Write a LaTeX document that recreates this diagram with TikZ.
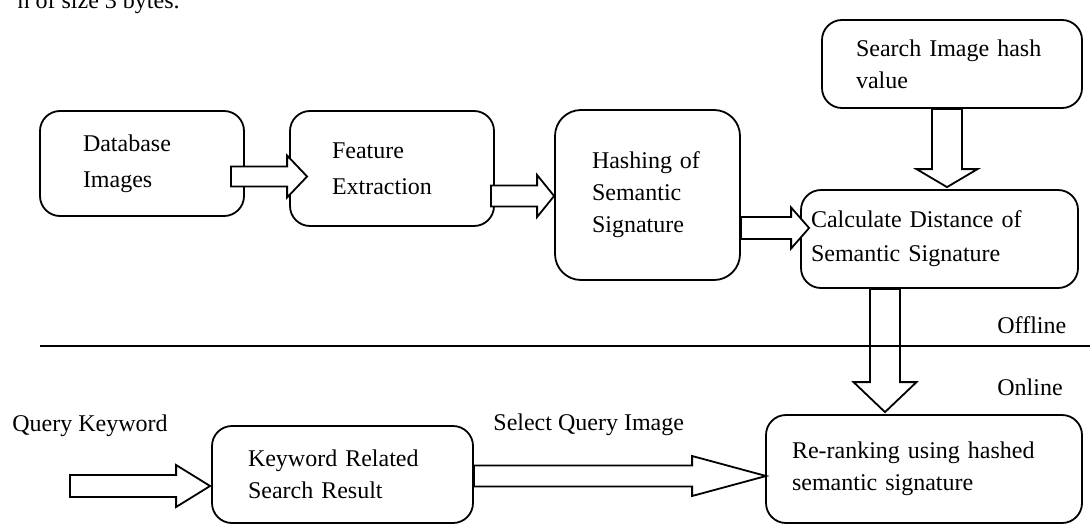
\documentclass[tikz,border=0pt]{standalone}
\usepackage{fontspec}
\setmainfont{Liberation Serif}
\usepackage{tikz}
\usetikzlibrary{calc,positioning}

% hollow block arrow: from, tip, half shaft, half head, head length
\newcommand{\blockarrow}[5]{%
  \path #1 coordinate (ba-s) #2 coordinate (ba-t);
  \path ($(ba-t)!#5!(ba-s)$) coordinate (ba-h);
  \draw[blockline] ($(ba-s)!#3!90:(ba-t)$) -- ($(ba-h)!#3!-90:(ba-s)$)
    -- ($(ba-h)!#4!-90:(ba-s)$) -- (ba-t) -- ($(ba-h)!#4!90:(ba-s)$)
    -- ($(ba-h)!#3!90:(ba-s)$) -- ($(ba-s)!#3!-90:(ba-t)$) -- cycle;}

\begin{document}
\begin{tikzpicture}[x=0.5pt,y=-0.5pt]
		\tikzstyle{txt} = [font=\fontsize{12}{16}\selectfont, inner sep=0pt];
		\tikzstyle{wide} = [font=\fontsize{12}{18}\selectfont];
		\tikzstyle{stage} = [draw, line width=0.9pt, rounded corners=10pt, txt,
		align=left, inner ysep=0pt];
		\tikzstyle{blockline} = [draw, line width=0.9pt, fill=white, line join=miter];
		\useasboundingbox (0,0) rectangle (1090,524);
		\node[txt, anchor=base east] (cut) at (180,9) {h of size 3 bytes.};
		% offline part
		\node[stage, wide, minimum width=102pt, minimum height=52.5pt, inner xsep=21.5pt,
		text width=59pt] (database) at (142,163.5) {Database\\Images};
		\node[stage, wide, minimum width=102pt, minimum height=57.5pt, inner xsep=21pt,
		text width=60pt] (feature) at (392,168.5) {Feature\\Extraction};
		\node[stage, rounded corners=13pt, minimum width=92.5pt, minimum height=85pt,
		inner xsep=18.5pt, text width=55.5pt] (hashing) at (647.5,195) {Hashing of\\Semantic\\Signature};
		\node[stage, minimum width=130pt, minimum height=44pt, inner xsep=17pt,
		text width=96pt] (search) at (952,64) {Search Image hash\\value};
		\node[stage, font=\fontsize{12}{17}\selectfont, minimum width=138.5pt, minimum height=49pt,
		inner xsep=5pt, text width=128.5pt] (distance) at (939.5,239) {Calculate Distance of\\Semantic Signature};
		% online part
		\node[txt, anchor=west] (query) at (12,426) {Query Keyword};
		\node[stage, minimum width=130.5pt, minimum height=48.5pt, inner xsep=18pt,
		text width=94.5pt] (keyword) at (342.5,474.5) {Keyword Related\\Search Result};
		\node[txt, anchor=west] (select) at (493,425) {Select Query Image};
		\node[stage, minimum width=158pt, minimum height=54pt, inner xsep=13pt,
		text width=132pt] (rerank) at (924,469) {Re-ranking using hashed\\semantic signature};
		\node[txt, anchor=west] (offline) at (997,325) {Offline};
		\node[txt, anchor=west] (online) at (997,387) {Online};
		\coordinate (qin) at (70,486);
		\coordinate (divl) at (40,346);
		\coordinate (divr) at (1090,346);

		\blockarrow{($(database.east)+(-14,13)$)}{($(feature.west)+(18,8)$)}{5pt}{10.5pt}{10pt}
		\blockarrow{($(feature.east)+(-4,27.5)$)}{($(hashing.west)+(0,1)$)}{5.25pt}{10.5pt}{8.5pt}
		\blockarrow{($(hashing.east)+(0,33)$)}{($(distance.west)+(9,-11)$)}{5.5pt}{10.25pt}{9pt}
		\blockarrow{($(search.south)+(-5,0)$)}{($(distance.north)+(7.5,-2)$)}{7.5pt}{15.25pt}{9pt}
		\blockarrow{($(distance.south)+(-54.5,0)$)}{($(rerank.north)+(-39,-2)$)}{7.5pt}{15.75pt}{15pt}
		\blockarrow{(qin)}{($(keyword.west)+(-1,11.5)$)}{5.5pt}{10.5pt}{17pt}
		\blockarrow{($(keyword.east)+(0,1.5)$)}{($(rerank.west)+(1,7)$)}{5.25pt}{10pt}{37pt}
		\draw[line width=0.9pt] (divl) -- (divr);
	\end{tikzpicture}
\end{document}
